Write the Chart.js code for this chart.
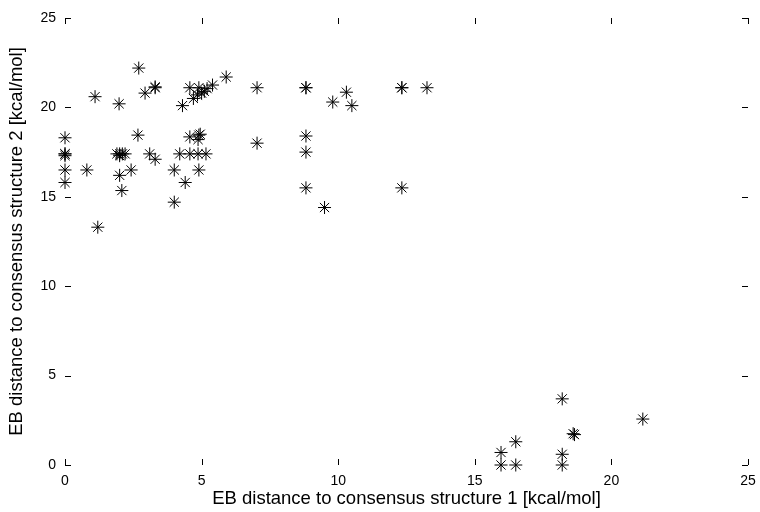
<!DOCTYPE html>
<html>
<head>
<meta charset="utf-8">
<script src="https://cdn.jsdelivr.net/npm/chart.js@4/dist/chart.umd.min.js"></script>
<style>
  html, body { margin: 0; padding: 0; background: #fff; }
  #wrap { width: 760px; height: 512px; }
</style>
</head>
<body>
<div id="wrap"><canvas id="scatter"></canvas></div>
<script>
// EB distances (kcal/mol)
const xValues = [
    0, 0, 0, 0, 0, 0, 0.8, 1.1, 1.2, 1.98,
    1.9, 2.0, 2.1, 2.2, 2.0, 2.0, 2.08, 2.42, 2.67, 2.7,
    2.93, 3.3, 3.3, 3.1, 3.3, 4.0, 4.0, 4.4, 4.2, 4.57,
    4.87, 5.16, 4.57, 4.9, 4.87, 4.95, 4.9, 4.3, 4.7, 4.57,
    4.9, 5.0, 5.2, 5.4, 5.9, 4.85, 5.1, 7.03, 7.03, 8.82,
    8.82, 8.82, 8.82, 8.82, 9.5, 9.8, 10.3, 10.5, 12.33, 12.33,
    13.25, 12.33,
    18.2, 18.65, 18.6, 21.15, 16.5, 15.96, 15.96, 16.5, 18.2, 18.2
];
const yValues = [
    18.3, 17.4, 17.4, 17.3, 16.5, 15.8, 16.5, 20.6, 13.3, 20.2,
    17.4, 17.4, 17.4, 17.4, 17.3, 16.2, 15.35, 16.5, 18.45, 22.2,
    20.8, 21.15, 21.1, 17.4, 17.1, 16.5, 14.7, 15.8, 17.4, 17.4,
    17.4, 17.4, 18.35, 18.45, 18.2, 18.5, 16.5, 20.1, 20.5, 21.1,
    21.1, 20.8, 21.05, 21.25, 21.7, 20.7, 20.9, 21.1, 18.0, 21.1,
    21.1, 18.4, 17.5, 15.5, 14.4, 20.3, 20.85, 20.1, 21.1, 21.1,
    21.1, 15.5,
    3.7, 1.7, 1.75, 2.57, 1.3, 0.7, 0, 0, 0.6, 0
];

const axisMin  = 0;
const axisMax  = 25;
const tickStep = 5;
const xTitle = 'EB distance to consensus structure 1 [kcal/mol]';
const yTitle = 'EB distance to consensus structure 2 [kcal/mol]';

const points = xValues.map((x, i) => ({ x: x, y: yValues[i] }));

// short tick marks pointing inwards on all four sides
const innerTicks = {
    id: 'innerTicks',
    afterDraw(chart) {
        const { ctx, chartArea: a, scales: { x, y } } = chart;
        const len = 6;
        ctx.save();
        ctx.strokeStyle = '#000';
        ctx.lineWidth = 1;
        ctx.beginPath();
        x.ticks.forEach(t => {
            const px = Math.round(x.getPixelForValue(t.value)) + 0.5;
            ctx.moveTo(px, a.top);    ctx.lineTo(px, a.top + len);
            ctx.moveTo(px, a.bottom); ctx.lineTo(px, a.bottom - len);
        });
        y.ticks.forEach(t => {
            const py = Math.round(y.getPixelForValue(t.value)) + 0.5;
            ctx.moveTo(a.left, py);  ctx.lineTo(a.left + len, py);
            ctx.moveTo(a.right, py); ctx.lineTo(a.right - len, py);
        });
        ctx.stroke();
        ctx.restore();
    }
};

Chart.defaults.font.family = '"Liberation Sans", Arial, sans-serif';
Chart.defaults.color = '#000';

new Chart(document.getElementById('scatter'), {
    type: 'scatter',
    data: {
        datasets: [{
            data: points,
            pointStyle: 'star',
            pointRadius: 6.5,
            pointHoverRadius: 6.5,
            borderColor: '#000',
            backgroundColor: 'rgba(0,0,0,0)',
            borderWidth: 1,
            clip: false
        }]
    },
    options: {
        responsive: true,
        maintainAspectRatio: false,
        animation: false,
        events: [],
        layout: { padding: { top: 18, right: 12, left: 0, bottom: 0 } },
        plugins: {
            legend: { display: false },
            tooltip: { enabled: false }
        },
        scales: {
            x: {
                type: 'linear',
                min: axisMin,
                max: axisMax,
                grid: { display: false, drawTicks: false },
                border: { display: false },
                ticks: { stepSize: tickStep, padding: 8, maxRotation: 0, font: { size: 14 } },
                title: { display: true, text: xTitle, font: { size: 18.5 }, padding: { top: 0, bottom: 2 } },
                afterFit: s => { s.height = 47; s.paddingLeft = 0; s.paddingRight = 0; }
            },
            y: {
                type: 'linear',
                min: axisMin,
                max: axisMax,
                grid: { display: false, drawTicks: false },
                border: { display: false },
                ticks: { stepSize: tickStep, padding: 9, font: { size: 14 } },
                title: { display: true, text: yTitle, font: { size: 18.5 }, padding: { top: 6, bottom: 0 } },
                afterFit: s => { s.width = 65; s.paddingTop = 0; s.paddingBottom = 0; }
            }
        }
    },
    plugins: [innerTicks]
});
</script>
</body>
</html>
